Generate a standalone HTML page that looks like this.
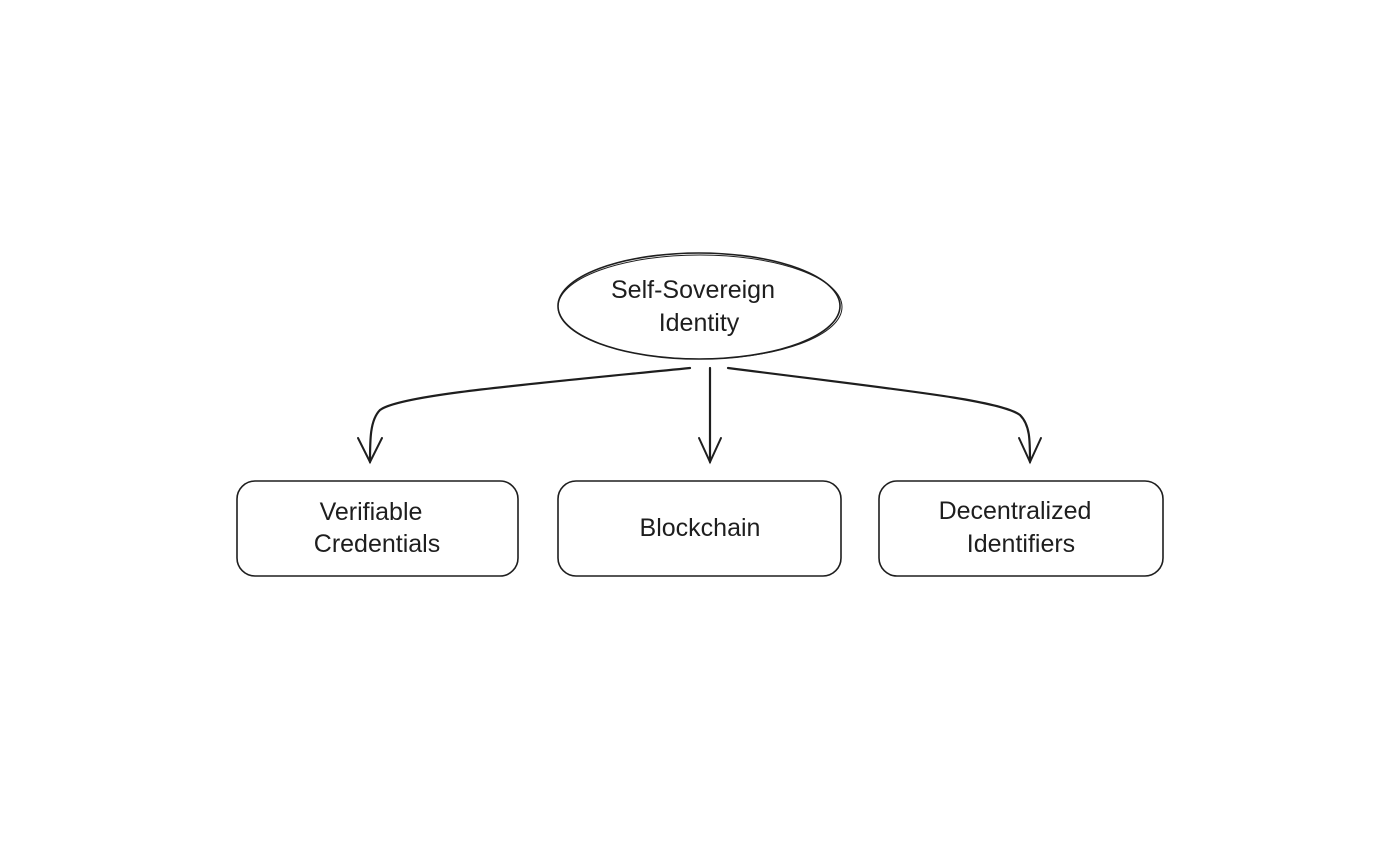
<!DOCTYPE html>
<html><head><meta charset="utf-8"><style>
html,body{margin:0;padding:0;background:#fff;}
svg{display:block}
text{font-family:"Liberation Sans",sans-serif;font-size:25px;fill:#1e1e1e;text-anchor:middle}
</style></head><body>
<svg width="1400" height="851" viewBox="0 0 1400 851">
<g fill="none" stroke="#1e1e1e" stroke-width="1.6" stroke-linecap="round">
<ellipse cx="699" cy="306" rx="141" ry="53"/>
<ellipse cx="700" cy="307" rx="142" ry="52" stroke-width="1"/>
<rect x="237" y="481" width="281" height="95" rx="18"/>
<rect x="558" y="481" width="283" height="95" rx="18"/>
<rect x="879" y="481" width="284" height="95" rx="18"/>
<path d="M690 368 C520 385 400 395 380 410 C370 420 370 440 370 462" stroke-width="2.2"/>
<path d="M358 438 L370 462 L382 438" stroke-width="2"/>
<path d="M710 368 L710 462" stroke-width="2.2"/>
<path d="M699 438 L710 462 L721 438" stroke-width="2"/>
<path d="M728 368 C900 390 1000 400 1020 415 C1030 425 1030 440 1030 462" stroke-width="2.2"/>
<path d="M1019 438 L1030 462 L1041 438" stroke-width="2"/>
</g>
<text x="693" y="298">Self-Sovereign</text>
<text x="699" y="331">Identity</text>
<text x="371" y="520">Verifiable</text>
<text x="377" y="552">Credentials</text>
<text x="700" y="536">Blockchain</text>
<text x="1015" y="519">Decentralized</text>
<text x="1021" y="552">Identifiers</text>
</svg>
</body></html>
